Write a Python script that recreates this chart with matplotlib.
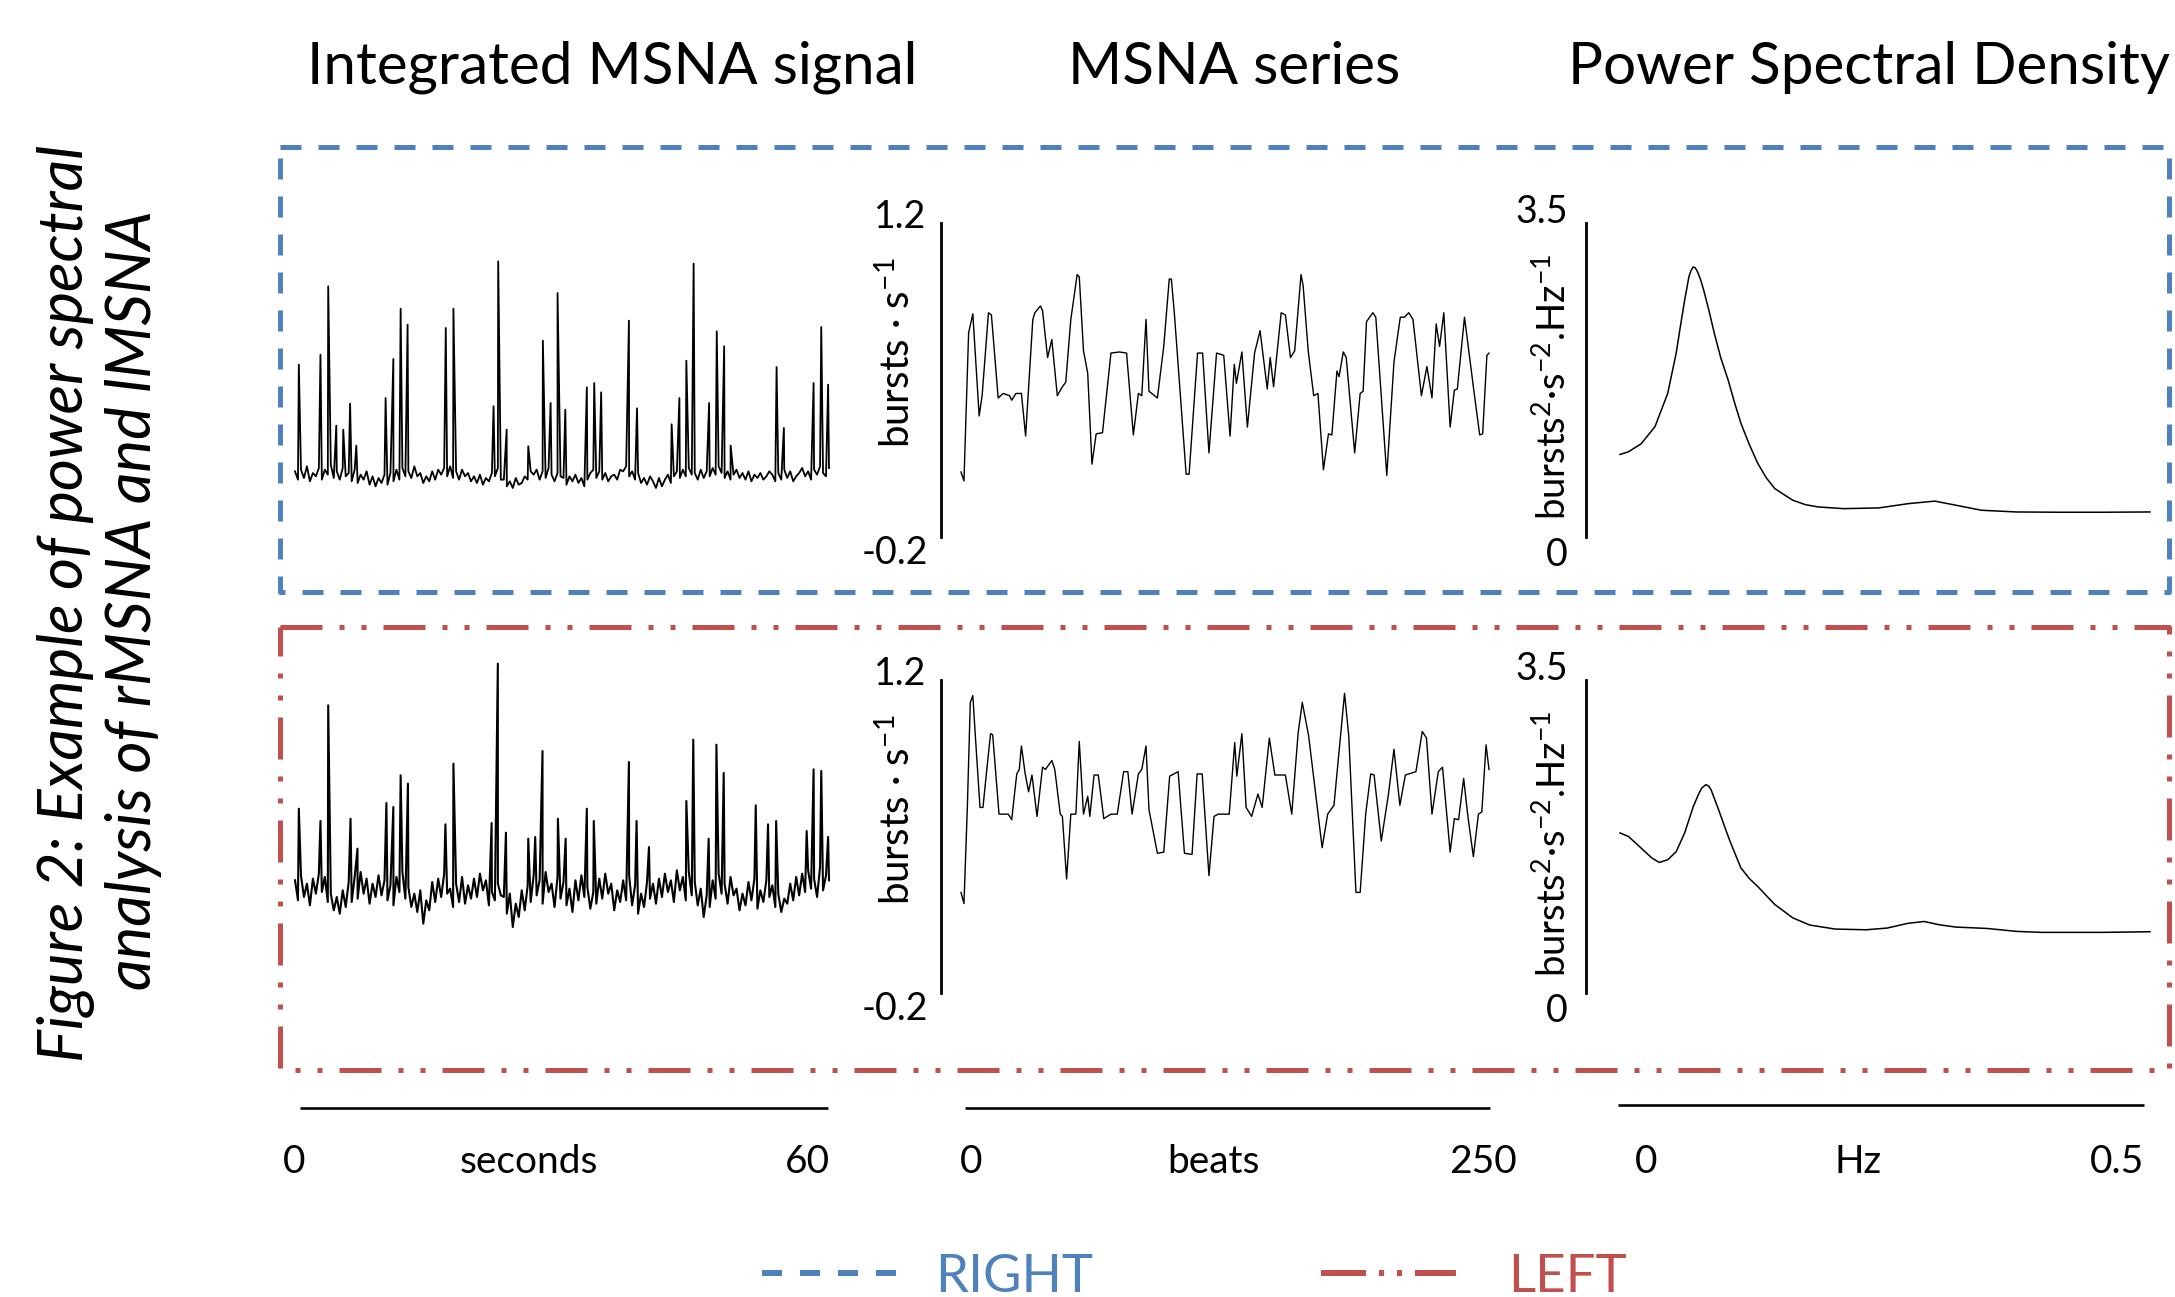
import numpy as np
import matplotlib
matplotlib.use('Agg')
import matplotlib.pyplot as plt

plt.rcParams['font.family'] = ['Lato', 'DejaVu Sans']
plt.rcParams['mathtext.fontset'] = 'custom'
plt.rcParams['mathtext.rm'] = 'Lato'
plt.rcParams['mathtext.it'] = 'Lato:italic'
plt.rcParams['lines.scale_dashes'] = False

# ---- data ----
# integrated MSNA: baseline noise (hundredths of a.u., uniform over 60 s) + burst peaks
noise_right = [5, -20, 10, -15, 20, -25, 0, -10, 15, -20,
               10, -5, 25, -15, 5, -20, 15, -10, 0, -25,
               10, -30, -5, -20, 5, -35, -10, -40, -15, -30,
               -5, -35, 0, -25, 10, -20, 15, -10, 5, -15,
               20, -10, 0, -30, -10, -25, 5, -20, 10, -5,
               15, -10, 20, -15, 5, -20, 10, -10, 0, -25,
               -10, -30, -5, -35, -15, -25, 0, -10, 15, -20,
               -20, -40, -25, -45, -15, -35, -30, -10, -20, 5,
               -5, 10, -20, 5, -15, 15, -5, -25, 0, -10,
               -15, -35, -10, -25, -5, -30, -15, -40, -20, 0,
               10, -15, 5, -20, 0, -25, -10, -5, -20, 10,
               5, 20, -10, 5, -20, 0, -30, -15, -35, -10,
               -25, -45, -15, -40, -20, -5, -30, -10, 5, -15,
               10, -10, 15, -5, 0, -20, 10, -15, 5, -10,
               15, -5, 20, 0, -15, 5, -20, -5, 10, -15,
               0, -20, 5, -25, -5, -15, 0, -20, -10, 5,
               -5, -25, 0, -20, 10, -15, 5, -25, -10, 0,
               15, -10, 5, -20, 10, -5, 20, 0, -10, 15]
burst_t_right = [0.43, 2.86, 3.73, 4.64, 5.42, 6.19, 6.89, 10.18, 11.05, 11.87,
                 12.65, 16.94, 17.80, 22.31, 22.83, 23.78, 26.21, 27.85, 28.72, 29.50,
                 30.37, 32.79, 33.62, 34.40, 37.52, 38.43, 42.32, 43.19, 43.97, 44.79,
                 46.53, 47.39, 48.22, 48.95, 54.11, 54.93, 58.27, 59.13, 59.9]
burst_h_right = [3.25, 3.55, 5.60, 1.42, 1.30, 2.08, 0.82, 2.25, 3.42, 4.93,
                 4.45, 4.35, 4.93, 2.00, 6.35, 1.30, 0.80, 3.97, 2.10, 5.40,
                 1.90, 2.57, 2.70, 2.42, 4.57, 1.94, 1.46, 2.25, 3.37, 6.28,
                 2.10, 4.25, 3.80, 0.82, 3.18, 1.35, 2.70, 4.38, 2.65]

noise_left = [20, -40, 35, -30, 10, -55, 25, -20, 40, -15,
              30, -45, -20, -70, -30, -80, -10, -60, 15, -45,
              30, -35, 45, -20, 25, -50, 10, -30, 35, -25,
              20, -40, 5, -55, 30, -15, 45, -35, 0, -60,
              -20, -75, -10, -110, -40, -70, 15, -45, 25, -30,
              40, -20, -5, -60, 10, -45, 30, -50, 5, -35,
              25, -30, 40, -10, 20, -55, -15, -40, 10, -25,
              -30, -80, -20, -120, -50, -90, -10, -70, 5, -45,
              35, -25, 20, -50, 45, -15, 10, -60, 30, -35,
              15, -55, -5, -75, 20, -40, 35, -30, 0, -65,
              -15, -50, 25, -35, 40, -20, 10, -70, -10, -45,
              20, -40, 35, -55, 5, -80, -20, -60, 15, -35,
              10, -50, 25, -30, 40, -15, 20, -45, 50, -10,
              30, -40, 45, -25, 15, -55, -5, -90, -25, -60,
              20, -35, 40, -20, 10, -50, 30, -25, -5, -70,
              -20, -55, 15, -40, 25, -65, -10, -45, 20, -30,
              5, -60, -20, -75, -35, -50, 10, -40, 30, -25,
              40, -15, 50, -5, 25, -30, 60, -10, 35, 20]
burst_t_left = [0.43, 2.86, 3.73, 6.24, 7.02, 10.27, 11.05, 11.87, 12.69, 16.90,
                17.80, 22.09, 22.79, 23.70, 26.21, 26.99, 27.81, 29.54, 30.41, 32.79,
                33.57, 37.52, 38.38, 39.77, 43.97, 44.75, 46.48, 47.35, 48.17, 51.77,
                53.15, 54.06, 57.49, 58.27, 59.13, 59.9]
burst_h_left = [2.35, 1.98, 5.45, 2.05, 1.15, 2.52, 2.40, 3.35, 3.10, 1.88,
                3.70, 1.92, 6.70, 1.63, 1.45, 1.50, 4.08, 2.05, 1.45, 2.35,
                1.98, 3.75, 1.98, 1.20, 2.58, 4.42, 1.45, 4.27, 3.42, 2.45,
                1.88, 1.98, 1.68, 3.53, 3.48, 1.50]

# MSNA series (bursts/s vs beat number)
beat_right = [0, 1.4, 3.6, 5.6, 8.6, 10, 13, 14.4, 17.6, 20, 23, 24, 26, 28.6, 30.6, 34, 35,
              37.6, 38.6, 41, 43, 45.6, 48, 49.6, 52, 55, 56, 58, 60, 62, 64, 67, 71, 75,
              78.4, 81.6, 84, 85.6, 87.6, 89, 93, 96, 98.6, 99.6, 101, 106.6, 108, 112,
              114.4, 117.4, 121, 124.4, 127.4, 129.4, 130.4, 133, 135.6, 139, 141.6, 145,
              146.4, 148, 151.6, 153.6, 156, 158, 161, 162, 164.4, 167, 169, 171.6, 174,
              175.6, 178, 179, 181, 182.4, 186.4, 189, 190.4, 192, 195, 196.4, 201.6, 205,
              208, 210, 212, 214, 218, 220.6, 223, 225, 226.6, 228.6, 231.6, 233.6, 235,
              238.4, 243, 245.6, 247, 249, 250]
msna_right = [0.09, 0.05, 0.71, 0.795, 0.34, 0.43, 0.80, 0.79, 0.42, 0.44, 0.43, 0.41, 0.44,
              0.44, 0.25, 0.77, 0.80, 0.83, 0.81, 0.60, 0.68, 0.43, 0.47, 0.49, 0.77, 0.97,
              0.96, 0.63, 0.53, 0.125, 0.26, 0.265, 0.62, 0.625, 0.62, 0.255, 0.44, 0.43,
              0.77, 0.45, 0.42, 0.65, 0.95, 0.95, 0.80, 0.08, 0.08, 0.62, 0.62, 0.175, 0.62,
              0.61, 0.25, 0.57, 0.485, 0.625, 0.29, 0.62, 0.72, 0.46, 0.60, 0.47, 0.80, 0.79,
              0.60, 0.63, 0.97, 0.92, 0.63, 0.43, 0.44, 0.10, 0.26, 0.255, 0.54, 0.515,
              0.625, 0.60, 0.175, 0.44, 0.45, 0.76, 0.80, 0.78, 0.075, 0.58, 0.78, 0.78,
              0.80, 0.77, 0.43, 0.56, 0.42, 0.75, 0.65, 0.80, 0.29, 0.455, 0.46, 0.78, 0.44,
              0.255, 0.26, 0.61, 0.62]

beat_left = [0, 1.4, 3, 4.4, 5.6, 7, 9, 10.4, 12, 14, 15, 18, 21, 22.4, 24, 26.4, 27.6, 28.6,
             30.4, 32, 33.6, 36, 38.6, 40, 43, 44.4, 47, 48, 50, 52, 54.4, 56, 58, 60, 61,
             63, 65, 67.6, 71, 74, 77, 79, 81, 84, 85.6, 87.6, 89, 93, 96, 98.8, 102.8,
             105.8, 109.4, 111.8, 114.2, 117.4, 119.8, 121.8, 123.8, 127, 129.6, 130.6, 133,
             135, 137.6, 140.6, 142.6, 146, 148.6, 151.6, 153.6, 156.6, 159.6, 161.6, 164.6,
             171, 173.6, 176.6, 181.6, 183.6, 187, 189, 191.6, 194, 195.6, 199, 202.4, 205,
             207.8, 210.4, 215.4, 218.4, 220.4, 223, 226, 228, 231.6, 233.6, 235.6, 238,
             240, 242.6, 245, 246.6, 248.6, 250]
msna_left = [0.25, 0.20, 0.63, 1.10, 1.13, 0.92, 0.63, 0.63, 0.78, 0.96, 0.955, 0.60, 0.60,
             0.60, 0.575, 0.78, 0.80, 0.905, 0.78, 0.70, 0.775, 0.59, 0.81, 0.80, 0.84, 0.80,
             0.60, 0.59, 0.31, 0.60, 0.60, 0.925, 0.60, 0.68, 0.59, 0.775, 0.775, 0.58, 0.60,
             0.60, 0.79, 0.79, 0.60, 0.78, 0.80, 0.905, 0.62, 0.425, 0.43, 0.77, 0.79, 0.425,
             0.42, 0.78, 0.78, 0.325, 0.59, 0.60, 0.60, 0.60, 0.92, 0.77, 0.96, 0.63, 0.59,
             0.69, 0.63, 0.94, 0.775, 0.775, 0.775, 0.60, 0.96, 1.10, 0.95, 0.45, 0.60, 0.64,
             1.14, 0.95, 0.25, 0.25, 0.60, 0.78, 0.775, 0.48, 0.69, 0.89, 0.64, 0.775, 0.79,
             0.97, 0.94, 0.60, 0.79, 0.81, 0.43, 0.58, 0.575, 0.76, 0.59, 0.41, 0.60, 0.61,
             0.91, 0.80]

# power spectral density (bursts^2 s^-2 Hz^-1 vs Hz)
freq_right = [0, 0.008, 0.020, 0.033, 0.045, 0.053, 0.057, 0.061, 0.065, 0.067, 0.069, 0.071,
              0.073, 0.076, 0.079, 0.084, 0.089, 0.095, 0.102, 0.108, 0.114, 0.122, 0.130,
              0.138, 0.146, 0.155, 0.163, 0.175, 0.187, 0.211, 0.244, 0.272, 0.297, 0.317,
              0.341, 0.374, 0.415, 0.455, 0.5]
psd_right = [0.92, 0.95, 1.04, 1.23, 1.60, 2.05, 2.35, 2.64, 2.90, 2.97, 3.01, 3.00,
             2.96, 2.87, 2.75, 2.52, 2.27, 2.00, 1.75, 1.50, 1.27, 1.03, 0.82,
             0.66, 0.54, 0.47, 0.41, 0.36, 0.335, 0.316, 0.324, 0.372, 0.40, 0.354,
             0.298, 0.279, 0.276, 0.276, 0.279]
freq_left = [0, 0.008, 0.020, 0.030, 0.037, 0.045, 0.053, 0.061, 0.069, 0.074, 0.077, 0.081,
             0.084, 0.086, 0.093, 0.099, 0.104, 0.114, 0.122, 0.130, 0.146, 0.163, 0.179,
             0.203, 0.232, 0.252, 0.272, 0.287, 0.301, 0.317, 0.346, 0.374, 0.398, 0.455,
             0.5]
psd_left = [1.79, 1.75, 1.62, 1.51, 1.46, 1.49, 1.58, 1.79, 2.08, 2.22, 2.29, 2.33,
            2.31, 2.27, 2.05, 1.85, 1.69, 1.40, 1.28, 1.19, 0.99, 0.84, 0.76,
            0.715, 0.707, 0.726, 0.78, 0.80, 0.763, 0.737, 0.722, 0.689, 0.678, 0.678,
            0.685]

col_titles = ['Integrated MSNA signal', 'MSNA series', 'Power Spectral Density']
blue = '#4F81BD'
red = '#C0504D'

W, H = 2175, 1297
fig = plt.figure(figsize=(W / 100, H / 100), dpi=100)
PT = 0.72  # points per pixel at dpi 100

# full-figure overlay in pixel coordinates for frames, text, legend
ov = fig.add_axes([0, 0, 1, 1])
ov.set_xlim(0, W)
ov.set_ylim(H, 0)
ov.axis('off')


def px_axes(x0, x1, y_top, y_bot):
    a = fig.add_axes([x0 / W, 1 - y_bot / H, (x1 - x0) / W, (y_bot - y_top) / H])
    a.patch.set_visible(False)
    return a


def burst_trace(noise, bt, bh):
    t = np.concatenate([np.linspace(0, 60, len(noise)), bt])
    v = np.concatenate([np.array(noise) / 100.0, bh])
    o = np.argsort(t, kind='stable')
    return t[o], v[o]


def y_axis_panel(a, offset_px):
    for s in ['top', 'right', 'bottom']:
        a.spines[s].set_visible(False)
    a.spines['left'].set_position(('outward', offset_px * PT))
    a.spines['left'].set_linewidth(2.0)
    a.set_xticks([])
    a.set_yticks([])


rows = [
    dict(sig=(noise_right, burst_t_right, burst_h_right), beat=beat_right, msna=msna_right,
         f=freq_right, p=psd_right, base=473, top=223, bot=537, lw=1.3),
    dict(sig=(noise_left, burst_t_left, burst_h_left), beat=beat_left, msna=msna_left,
         f=freq_left, p=psd_left, base=887, top=680, bot=993, lw=1.5),
]

for r in rows:
    # integrated signal
    a1 = px_axes(295, 829, r['base'] - 200, r['base'])
    t, v = burst_trace(*r['sig'])
    a1.plot(t, v, color='black', lw=r['lw'], clip_on=False)
    a1.set_xlim(0, 60)
    a1.set_ylim(0, 6)
    a1.axis('off')

    # MSNA series
    a2 = px_axes(961, 1489, r['top'], r['bot'])
    a2.plot(r['beat'], r['msna'], color='black', lw=1.0, clip_on=False)
    a2.set_xlim(0, 250)
    a2.set_ylim(-0.2, 1.2)
    y_axis_panel(a2, 20)

    # PSD
    a3 = px_axes(1620, 2150, r['top'], r['bot'])
    a3.plot(r['f'], r['p'], color='black', lw=1.1, clip_on=False)
    a3.set_xlim(0, 0.5)
    a3.set_ylim(0, 3.5)
    y_axis_panel(a3, 34)

    # axis end labels
    tk = dict(fontsize=27, ha='right', va='center')
    ov.text(926, r['top'] - 6, '1.2', **tk)
    ov.text(928, r['bot'] + 16, '-0.2', **tk)
    ov.text(1568, r['top'] - 11, '3.5', **tk)
    ov.text(1568, r['bot'] + 18, '0', **tk)
    ov.text(897, r['top'] + 130, r'bursts · s$^{-1}$', fontsize=29, rotation=90,
            ha='center', va='center')
    ov.text(1553, r['top'] + 164, r'bursts$^{2}$·s$^{-2}$.Hz$^{-1}$', fontsize=27.5,
            rotation=90, ha='center', va='center')

# column titles
for x, s in zip([612, 1234, 1869], col_titles):
    ov.text(x, 67, s, fontsize=42, ha='center', va='center')

# frames
def frame(x0, x1, y0, y1, color, dashes):
    ov.plot([x0, x1, x1, x0, x0], [y0, y0, y1, y1, y0], color=color, lw=5 * PT,
            linestyle=(0, [d * PT for d in dashes]), solid_capstyle='butt',
            dash_capstyle='butt')

blue_dash = [21, 17]
red_dash = [42, 17, 5, 17, 5, 17]
frame(280, 2169, 147, 592, blue, blue_dash)
frame(280, 2169, 627, 1070, red, red_dash)

# shared x axes at the bottom
for x0, x1, y in [(300, 828, 1108), (965, 1490, 1108), (1618, 2144, 1105)]:
    ov.plot([x0, x1], [y, y], color='black', lw=2.6 * PT, solid_capstyle='butt')
xl = dict(fontsize=28, ha='center', va='center')
for x, s in [(294, '0'), (529, 'seconds'), (807, '60'),
             (971, '0'), (1213, 'beats'), (1483, '250'),
             (1646, '0'), (1858, 'Hz'), (2117, '0.5')]:
    ov.text(x, 1162, s, **xl)

# figure caption (rotated, italic)
ov.text(66, 603, 'Figure 2: Example of power spectral', fontsize=44.5, style='italic',
        rotation=90, ha='center', va='center')
ov.text(134, 600, 'analysis of rMSNA and lMSNA', fontsize=44.5, style='italic',
        rotation=90, ha='center', va='center')

# legend
ov.plot([762, 896], [1273, 1273], color=blue, lw=6 * PT,
        linestyle=(0, [d * PT for d in [20, 18]]), dash_capstyle='butt')
ov.text(935, 1292, 'RIGHT', color=blue, fontsize=38, ha='left', va='baseline')
ov.plot([1321, 1456], [1273, 1273], color=red, lw=6 * PT,
        linestyle=(0, [d * PT for d in [45, 13, 5, 13, 5, 13]]), dash_capstyle='butt')
ov.text(1508, 1292, 'LEFT', color=red, fontsize=38, ha='left', va='baseline')

fig.savefig('out.png', dpi=100)
